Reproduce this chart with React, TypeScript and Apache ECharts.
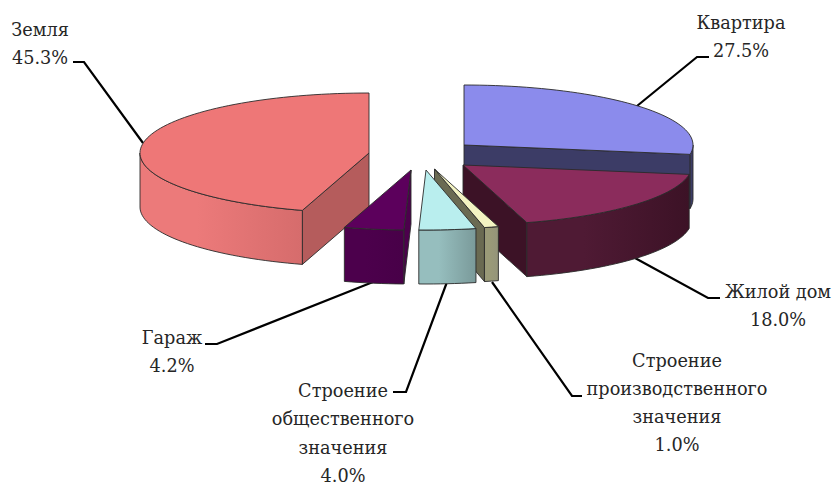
import React, { useEffect, useRef } from "react";
import * as echarts from "echarts";

const categories = [
  ["Квартира"],
  ["Жилой дом"],
  ["Строение", "производственного", "значения"],
  ["Строение", "общественного", "значения"],
  ["Гараж"],
  ["Земля"],
];
const shares = [27.5, 18.0, 1.0, 4.0, 4.2, 45.3];

// Layout only (one entry per slice, clockwise from 12 o'clock)
const RX = 229;
const RY = 60;
const DEPTH = 54;
const LINE_STEP = 28.3;
const apex = [[464, 145], [463, 165], [434.5, 169], [426, 170], [411, 170], [369, 153]];
const paint = [0, 2, 4, 5, 3, 1];
const topColor = ["#8b8bec", "#8b2c5c", "#f3f3c2", "#b9eeee", "#5c005c", "#ee7777"];
const rimFrom = ["#3c3c66", "#4f1a34", "#9a9a78", "#96bebe", "#4c004c", "#ec7a7a"];
const rimTo = ["#3c3c66", "#3c1226", "#94947a", "#7a9a9a", "#480048", "#d66c6c"];
const cutColor = ["#3c3c66", "#3c1226", "#6a6a52", "#7a9a9a", "#4c004c", "#b55c5c"];
const labelPos = [[741, 37], [778, 306], [677, 403], [343, 433.5], [172, 352], [40, 44]];
const leaders = [
  [[637, 106], [697, 57], [709, 57]],
  [[635, 258], [708, 298], [720, 298]],
  [[492, 282], [572, 396], [582, 396]],
  [[447, 282], [406, 392], [393, 392]],
  [[373, 282], [217, 344], [205, 344]],
  [[143, 143], [84, 62], [73, 62]],
];

const starts: number[] = [];
shares.reduce((sum, v, i) => {
  starts[i] = sum;
  return sum + v;
}, 0);

const rad = (a: number) => (a * Math.PI) / 180;
const at = (c: number[], a: number, dy = 0) => [
  c[0] + RX * Math.sin(rad(a)),
  c[1] - RY * Math.cos(rad(a)) + dy,
];
const arc = (c: number[], a0: number, a1: number, dy = 0) => {
  const n = Math.max(2, Math.ceil((a1 - a0) / 2));
  const out: number[][] = [];
  for (let k = 0; k <= n; k++) out.push(at(c, a0 + ((a1 - a0) * k) / n, dy));
  return out;
};

const STROKE = { stroke: "#2a2a2a", lineWidth: 0.9, lineJoin: "round" };

function renderItem(params: any, api: any) {
  const i = params.dataIndex;
  const share = api.value(0);
  const a0 = (starts[i] / 100) * 360;
  const a1 = a0 + (share / 100) * 360;
  const c = apex[i];
  const base = 10 + paint[i] * 10;
  const children: any[] = [];
  const poly = (points: number[][], fill: any, z: number) =>
    children.push({
      type: "polygon",
      z2: base + z,
      shape: { points },
      style: { fill, ...STROKE },
    });

  // cut faces
  if (Math.sin(rad(a0)) < -1e-6) {
    const p = at(c, a0);
    poly([c, p, [p[0], p[1] + DEPTH], [c[0], c[1] + DEPTH]], cutColor[i], 0);
  }
  if (Math.sin(rad(a1)) > 1e-6) {
    const p = at(c, a1);
    poly([c, p, [p[0], p[1] + DEPTH], [c[0], c[1] + DEPTH]], cutColor[i], 1);
  }
  // outer rim (front half only)
  const f0 = Math.max(a0, 90);
  const f1 = Math.min(a1, 270);
  if (f1 > f0) {
    const upper = arc(c, f0, f1);
    const lower = arc(c, f0, f1, DEPTH).reverse();
    poly(
      [...upper, ...lower],
      new echarts.graphic.LinearGradient(0, 0, 1, 0, [
        { offset: 0, color: rimFrom[i] },
        { offset: 0.35, color: rimFrom[i] },
        { offset: 1, color: rimTo[i] },
      ]),
      2
    );
  }
  // top face
  poly([c, ...arc(c, a0, a1)], topColor[i], 3);

  // leader line and label
  children.push({
    type: "polyline",
    z2: 1,
    shape: { points: leaders[i] },
    style: { stroke: "#000", lineWidth: 2.2, fill: "none" },
  });
  const lines = [...categories[i], `${share.toFixed(1)}%`];
  lines.forEach((text, k) => {
    children.push({
      type: "text",
      z2: 200,
      x: labelPos[i][0],
      y: labelPos[i][1] + (k - (lines.length - 1) / 2) * LINE_STEP,
      style: {
        text,
        fontFamily: "'DejaVu Serif', serif",
        fontSize: 17.7,
        lineHeight: 16,
        fill: "#262626",
        align: "center",
        verticalAlign: "middle",
      },
    });
  });
  return { type: "group", children };
}

export default function App() {
  const ref = useRef<HTMLDivElement>(null);
  useEffect(() => {
    const chart = echarts.init(ref.current!, undefined, { renderer: "svg" });
    chart.setOption({
      animation: false,
      backgroundColor: "#fff",
      series: [
        {
          type: "custom",
          coordinateSystem: "none",
          silent: true,
          data: shares.map((v) => [v]),
          renderItem,
        },
      ],
    });
    return () => chart.dispose();
  }, []);
  return (
    <div
      ref={ref}
      style={{ position: "absolute", left: 0, top: 0, width: 838, height: 485 }}
    />
  );
}
